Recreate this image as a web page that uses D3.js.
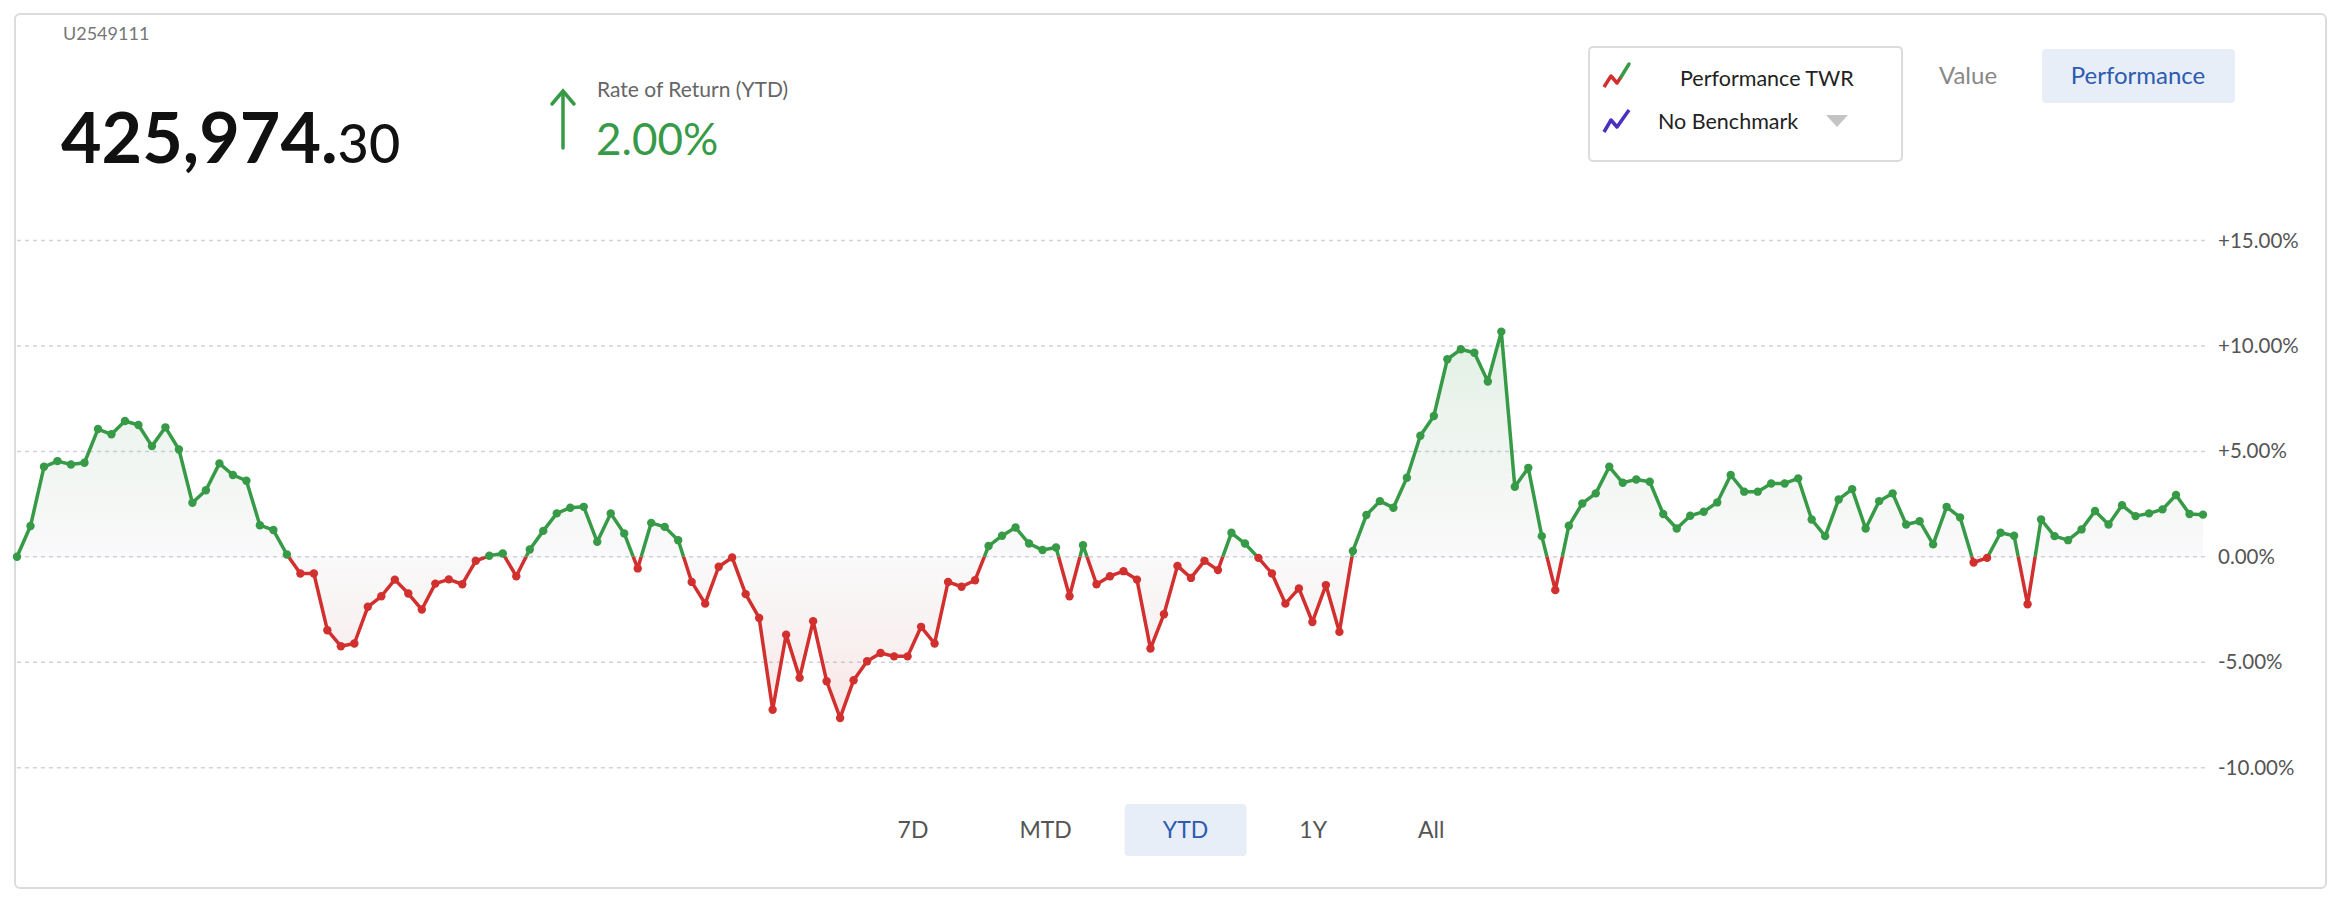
<!DOCTYPE html>
<html>
<head>
<meta charset="utf-8">
<script src="https://cdn.jsdelivr.net/npm/d3@7"></script>
<style>
  html, body { margin: 0; padding: 0; background: #fff; }
  svg { display: block; font-family: "Lato", "Open Sans", sans-serif; }
</style>
</head>
<body>
<div id="chart"></div>
<script>
// daily cumulative TWR (%) year to date
const returns = [
  0.00, 1.46, 4.27, 4.54, 4.38, 4.46, 6.06, 5.81, 6.44, 6.25,
  5.25, 6.14, 5.09, 2.56, 3.16, 4.43, 3.88, 3.61, 1.50, 1.27,
  0.11, -0.79, -0.79, -3.48, -4.24, -4.11, -2.37, -1.87, -1.08, -1.74,
  -2.50, -1.27, -1.07, -1.30, -0.19, 0.05, 0.16, -0.92, 0.35, 1.23,
  2.06, 2.33, 2.37, 0.71, 2.06, 1.11, -0.55, 1.61, 1.42, 0.79,
  -1.19, -2.22, -0.47, -0.03, -1.77, -2.90, -7.25, -3.69, -5.74, -3.05,
  -5.90, -7.64, -5.85, -4.95, -4.56, -4.72, -4.72, -3.32, -4.11, -1.19,
  -1.42, -1.11, 0.51, 1.00, 1.39, 0.63, 0.32, 0.44, -1.87, 0.55,
  -1.30, -0.92, -0.68, -1.08, -4.35, -2.72, -0.43, -1.00, -0.19, -0.63,
  1.14, 0.63, -0.05, -0.79, -2.22, -1.50, -3.09, -1.34, -3.56, 0.28,
  1.98, 2.64, 2.33, 3.75, 5.74, 6.68, 9.37, 9.84, 9.68, 8.31,
  10.68, 3.32, 4.22, 0.98, -1.58, 1.47, 2.53, 3.01, 4.27, 3.51,
  3.67, 3.56, 2.03, 1.34, 1.95, 2.14, 2.58, 3.88, 3.09, 3.09,
  3.48, 3.48, 3.72, 1.77, 0.98, 2.72, 3.21, 1.34, 2.64, 3.01,
  1.53, 1.69, 0.59, 2.37, 1.87, -0.27, -0.05, 1.14, 1.00, -2.25,
  1.77, 0.98, 0.79, 1.30, 2.17, 1.53, 2.45, 1.93, 2.06, 2.25,
  2.93, 2.03, 2.00
];

const yTicks = [15, 10, 5, 0, -5, -10];
const periods = ["7D", "MTD", "YTD", "1Y", "All"];
const activePeriod = "YTD";
const viewModes = ["Value", "Performance"];
const activeMode = "Performance";

const accountId = "U2549111";
const balanceWhole = "425,974.";
const balanceCents = "30";
const rateLabel = "Rate of Return (YTD)";
const rateValue = "2.00%";
const legendItems = ["Performance TWR", "No Benchmark"];

const width = 2344;
const height = 904;
const green = "#379a47";
const red = "#d2302f";
const blue = "#2c5bb0";

const svg = d3.select("#chart").append("svg")
    .attr("width", width)
    .attr("height", height);

const defs = svg.append("defs");

// card
svg.append("rect")
    .attr("x", 15).attr("y", 14)
    .attr("width", 2311).attr("height", 874)
    .attr("rx", 5)
    .attr("fill", "#fff")
    .attr("stroke", "#dcdcdc")
    .attr("stroke-width", 2);

// ---- header ----
svg.append("text")
    .attr("x", 63).attr("y", 40)
    .attr("font-size", 18)
    .attr("fill", "#777")
    .text(accountId);

const bal = svg.append("text")
    .attr("x", 61).attr("y", 163)
    .attr("fill", "#111");
bal.append("tspan")
    .attr("font-size", 70)
    .attr("font-weight", 700)
    .text(balanceWhole);
bal.append("tspan")
    .attr("font-size", 54)
    .attr("font-weight", 500)
    .text(balanceCents);

// up arrow
const arrow = svg.append("g")
    .attr("stroke", green)
    .attr("stroke-width", 3.5)
    .attr("fill", "none")
    .attr("stroke-linecap", "round");
arrow.append("line").attr("x1", 563).attr("y1", 92).attr("x2", 563).attr("y2", 148);
arrow.append("polyline").attr("points", "552,104 563,91 574,104");

svg.append("text")
    .attr("x", 597).attr("y", 97)
    .attr("font-size", 21)
    .attr("fill", "#666")
    .text(rateLabel);

svg.append("text")
    .attr("x", 596).attr("y", 155)
    .attr("font-size", 44)
    .attr("fill", green)
    .text(rateValue);

// legend box
const legend = svg.append("g");
legend.append("rect")
    .attr("x", 1589).attr("y", 47)
    .attr("width", 313).attr("height", 114)
    .attr("rx", 4)
    .attr("fill", "#fff")
    .attr("stroke", "#dcdcdc")
    .attr("stroke-width", 2);

// zigzag icons
legend.append("polyline")
    .attr("points", "1604,87 1611,76 1617,83 1621,77")
    .attr("fill", "none").attr("stroke", red).attr("stroke-width", 3.5)
    .attr("stroke-linejoin", "round");
legend.append("polyline")
    .attr("points", "1621,77 1629,64")
    .attr("fill", "none").attr("stroke", green).attr("stroke-width", 3.5)
    .attr("stroke-linecap", "round");
legend.append("polyline")
    .attr("points", "1604,132 1611,120 1617,127 1629,110")
    .attr("fill", "none").attr("stroke", "#4a2fc0").attr("stroke-width", 3.5)
    .attr("stroke-linejoin", "round");

legend.append("text")
    .attr("x", 1680).attr("y", 86)
    .attr("font-size", 21.5)
    .attr("fill", "#222")
    .text(legendItems[0]);
legend.append("text")
    .attr("x", 1658).attr("y", 129)
    .attr("font-size", 21.5)
    .attr("fill", "#222")
    .text(legendItems[1]);
legend.append("path")
    .attr("d", "M1826,115 L1848,115 L1837,127 Z")
    .attr("fill", "#c4c4c4");

// Value / Performance toggle
svg.append("rect")
    .attr("x", 2042).attr("y", 49)
    .attr("width", 193).attr("height", 54)
    .attr("rx", 4)
    .attr("fill", "#e8eef8");

svg.selectAll(".mode")
    .data(viewModes)
    .enter()
    .append("text")
    .attr("class", "mode")
    .attr("x", (d, i) => i === 0 ? 1968 : 2138)
    .attr("y", 84)
    .attr("text-anchor", "middle")
    .attr("font-size", 24)
    .attr("fill", d => d === activeMode ? blue : "#888")
    .text(d => d);

// ---- chart ----
const x = d3.scaleLinear()
    .domain([0, returns.length - 1])
    .range([17, 2203]);

const y = d3.scaleLinear()
    .domain([-10, 15])
    .range([767.7, 240.5]);

const y0 = y(0);

// grid + labels
svg.append("g")
    .selectAll("line")
    .data(yTicks)
    .enter()
    .append("line")
    .attr("x1", 17).attr("x2", 2205)
    .attr("y1", d => y(d)).attr("y2", d => y(d))
    .attr("stroke", "#cfd3de")
    .attr("stroke-width", 1.5)
    .attr("stroke-dasharray", "4,4");

// plain hyphen for negatives, plus sign for positives
const fmt = d => (d > 0 ? "+" : d < 0 ? "-" : "") + Math.abs(d).toFixed(2) + "%";
svg.append("g")
    .selectAll("text")
    .data(yTicks)
    .enter()
    .append("text")
    .attr("x", 2218)
    .attr("y", d => y(d) + 7)
    .attr("font-size", 20.5)
    .attr("fill", "#555")
    .text(fmt);

// area gradient: green above zero, red below
const grad = defs.append("linearGradient")
    .attr("id", "areaFill")
    .attr("gradientUnits", "userSpaceOnUse")
    .attr("x1", 0).attr("x2", 0)
    .attr("y1", y(11)).attr("y2", y(-8));
const zeroOff = (y0 - y(11)) / (y(-8) - y(11));
grad.append("stop").attr("offset", 0).attr("stop-color", "#3aa34f").attr("stop-opacity", 0.16);
grad.append("stop").attr("offset", zeroOff).attr("stop-color", "#9aa09a").attr("stop-opacity", 0.06);
grad.append("stop").attr("offset", zeroOff).attr("stop-color", "#a09a9a").attr("stop-opacity", 0.06);
grad.append("stop").attr("offset", 1).attr("stop-color", "#e03a3a").attr("stop-opacity", 0.14);

const area = d3.area()
    .x((d, i) => x(i))
    .y0(y0)
    .y1(d => y(d));

svg.append("path")
    .datum(returns)
    .attr("d", area)
    .attr("fill", "url(#areaFill)");

// clip regions to colour the line by sign
defs.append("clipPath").attr("id", "above")
    .append("rect").attr("x", 0).attr("y", 0).attr("width", width).attr("height", y0);
defs.append("clipPath").attr("id", "below")
    .append("rect").attr("x", 0).attr("y", y0).attr("width", width).attr("height", height - y0);

const line = d3.line()
    .x((d, i) => x(i))
    .y(d => y(d));

[["above", green], ["below", red]].forEach(([clip, color]) => {
    svg.append("path")
        .datum(returns)
        .attr("d", line)
        .attr("fill", "none")
        .attr("stroke", color)
        .attr("stroke-width", 3.5)
        .attr("stroke-linejoin", "round")
        .attr("clip-path", `url(#${clip})`);
});

svg.append("g")
    .selectAll("circle")
    .data(returns)
    .enter()
    .append("circle")
    .attr("cx", (d, i) => x(i))
    .attr("cy", d => y(d))
    .attr("r", 4.2)
    .attr("fill", d => d >= 0 ? green : red);

// ---- period buttons: laid out like a row of padded buttons ----
const btnPad = 38;
const btnGap = 15;
const btnRow = svg.append("g");

const labels = btnRow.selectAll("text")
    .data(periods)
    .enter()
    .append("text")
    .attr("y", 838)
    .attr("text-anchor", "middle")
    .attr("font-size", 23)
    .attr("fill", d => d === activePeriod ? blue : "#555")
    .text(d => d);

let cursor = null;
labels.each(function (d) {
    const w = this.getComputedTextLength() + 2 * btnPad;
    if (cursor === null) cursor = 913 - w / 2;
    const cx = cursor + w / 2;
    d3.select(this).attr("x", cx);
    if (d === activePeriod) {
        btnRow.insert("rect", "text")
            .attr("x", cx - 61).attr("y", 804)
            .attr("width", 122).attr("height", 52)
            .attr("rx", 4)
            .attr("fill", "#e8eef8");
    }
    cursor += w + btnGap;
});
</script>
</body>
</html>
